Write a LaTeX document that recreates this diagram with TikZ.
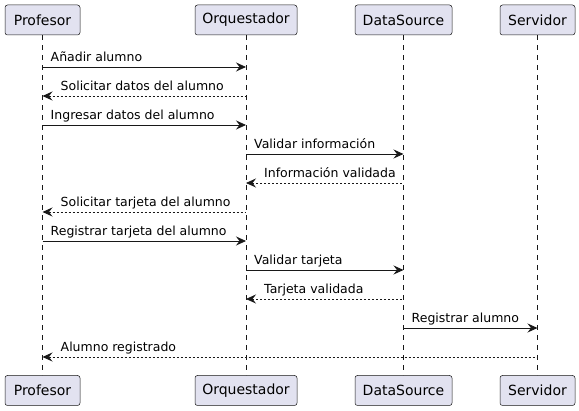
\documentclass[tikz,border=0pt]{standalone}
\usepackage{fontspec}
\setmainfont{DejaVu Sans}
\usetikzlibrary{arrows.meta}
\definecolor{boxfill}{HTML}{E2E2F0}
\definecolor{umlline}{HTML}{181818}

\begin{document}
\begin{tikzpicture}[x=1pt, y=-1pt,
    actor/.style={draw=umlline, fill=boxfill, rounded corners=2.5pt, line width=0.5pt,
        minimum height=30pt, inner sep=0pt, font=\fontsize{14}{16}\selectfont},
    lifeline/.style={umlline, line width=0.5pt, dash pattern=on 5pt off 5pt},
    call/.style={umlline, line width=0.8pt, -{Stealth[length=10pt, width=9pt, inset=3.5pt]}},
    reply/.style={umlline, line width=0.8pt, dash pattern=on 2pt off 2pt, {Stealth[length=10pt, width=9pt, inset=3.5pt]}-},
    msg/.style={anchor=base west, inner sep=0pt, font=\fontsize{12.5}{15}\selectfont}]
    \useasboundingbox (0,0) rectangle (579,411);

    % Participants, top and bottom
    \foreach \n/\x/\w/\txt in {prof/42.5/75/Profesor, orq/246/102/Orquestador,
        ds/403.5/97/DataSource, serv/537.5/75/Servidor} {
        \node[actor, minimum width=\w pt] (\n) at (\x,20) {\txt};
        \node[actor, minimum width=\w pt] (\n2) at (\x,390.5) {\txt};
        \draw[lifeline] (\n.south) -- (\n2.north);
    }

    % Messages (always drawn left to right, reply arrows point back)
    \foreach \l/\r/\y/\st/\dx/\txt [count=\i] in {
        prof/orq/67/call/8/Añadir alumno,
        prof/orq/96/reply/18/Solicitar datos del alumno,
        prof/orq/125/call/8/Ingresar datos del alumno,
        orq/ds/154/call/8/Validar información,
        orq/ds/183/reply/18/Información validada,
        prof/orq/212/reply/18/Solicitar tarjeta del alumno,
        prof/orq/241/call/8/Registrar tarjeta del alumno,
        orq/ds/270/call/8/Validar tarjeta,
        orq/ds/299/reply/18/Tarjeta validada,
        ds/serv/328/call/8/Registrar alumno,
        prof/serv/357/reply/18/Alumno registrado} {
        \draw[\st] (\l |- 0,\y) -- (\r |- 0,\y);
        \node[msg] (m\i) at ([xshift=\dx pt] \l |- 0,\y-5) {\txt};
    }
\end{tikzpicture}
\end{document}
